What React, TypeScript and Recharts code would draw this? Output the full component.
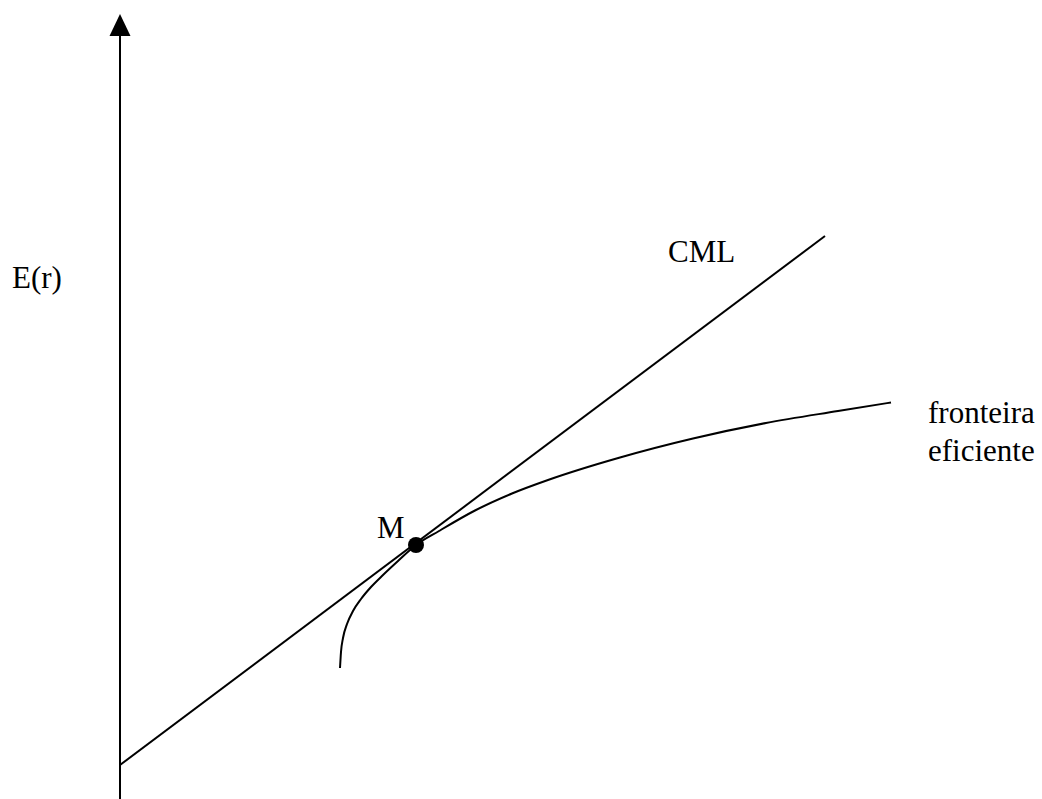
import React from "react";
import {
  ComposedChart,
  Line,
  Scatter,
  XAxis,
  YAxis,
  ReferenceLine,
  ReferenceDot,
} from "recharts";

// Risk (sigma) and expected return E(r), in arbitrary diagram units
const cmlSigma = [0, 70.5];
const cmlReturn = [1.0, 53.9];

const frontierSigma = [22.0, 22.1, 22.3, 22.7, 23.3, 24.1, 25.1, 26.3, 27.8, 29.6, 31.9, 35.5, 39.2, 42.8, 50.0, 57.3, 64.6, 71.8, 77.1];
const frontierReturn = [10.7, 12.3, 13.7, 15.1, 16.4, 17.6, 18.8, 20.0, 21.4, 23.0, 24.4, 26.45, 28.15, 29.5, 31.75, 33.65, 35.2, 36.4, 37.25];

const marketSigma = [29.6];
const marketReturn = [23.0];

const labels = [
  { text: "E(r)", sigma: -10.8, er: 48.7 },
  { text: "CML", sigma: 54.8, er: 51.3 },
  { text: "M", sigma: 25.7, er: 23.7 },
  { text: "fronteira", sigma: 80.8, er: 35.2 },
  { text: "eficiente", sigma: 80.8, er: 31.4 },
];

const axisTop = 74.0;
const axisBottom = -2.4;

const cml = cmlSigma.map((s, i) => ({ sigma: s, er: cmlReturn[i] }));
const frontier = frontierSigma.map((s, i) => ({ sigma: s, er: frontierReturn[i] }));
const market = marketSigma.map((s, i) => ({ sigma: s, er: marketReturn[i] }));

const FONT = "'Liberation Serif', 'Times New Roman', serif";

export default function App() {
  return (
    <div style={{ position: "absolute", left: 0, top: 0, width: 1042, height: 799, background: "#fff" }}>
      <ComposedChart width={1042} height={799} margin={{ top: 0, right: 0, bottom: 0, left: 0 }}>
        <XAxis type="number" dataKey="sigma" domain={[-12, 92.2]} hide allowDataOverflow />
        <YAxis type="number" dataKey="er" domain={[-2.4, 77.5]} hide allowDataOverflow />
        <ReferenceLine
          segment={[
            { x: 0, y: axisBottom },
            { x: 0, y: axisTop },
          ]}
          stroke="#000"
          strokeWidth={2}
          ifOverflow="visible"
        />
        <ReferenceDot
          x={0}
          y={axisTop}
          ifOverflow="visible"
          shape={(p: any) => (
            <polygon
              points={`${p.cx - 10.5},${p.cy + 1} ${p.cx + 10.5},${p.cy + 1} ${p.cx},${p.cy - 21}`}
              fill="#000"
            />
          )}
        />
        <Line
          data={cml}
          dataKey="er"
          type="linear"
          stroke="#000"
          strokeWidth={2}
          dot={false}
          activeDot={false}
          isAnimationActive={false}
        />
        <Line
          data={frontier}
          dataKey="er"
          type="monotone"
          stroke="#000"
          strokeWidth={2}
          dot={false}
          activeDot={false}
          isAnimationActive={false}
        />
        <Scatter
          data={market}
          dataKey="er"
          fill="#000"
          isAnimationActive={false}
          shape={(p: any) => <circle cx={p.cx} cy={p.cy} r={8} fill="#000" />}
        />
        {labels.map((l) => (
          <ReferenceDot
            key={l.text}
            x={l.sigma}
            y={l.er}
            ifOverflow="visible"
            shape={(p: any) => (
              <text x={p.cx} y={p.cy} fontFamily={FONT} fontSize={31} fill="#000" textAnchor="start">
                {l.text}
              </text>
            )}
          />
        ))}
      </ComposedChart>
    </div>
  );
}
